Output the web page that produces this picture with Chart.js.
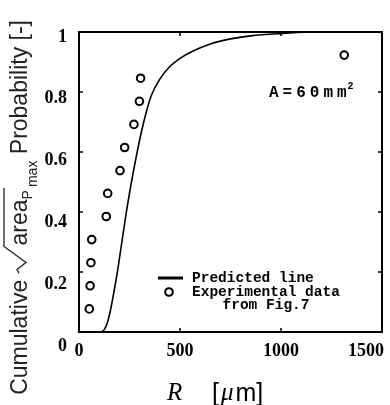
<!DOCTYPE html>
<html>
<head>
<meta charset="utf-8">
<script src="https://cdn.jsdelivr.net/npm/chart.js@4.4.1/dist/chart.umd.min.js"></script>
<style>
  body { margin: 0; background: #fff; }
  canvas { display: block; }
</style>
</head>
<body>
<canvas id="probChart" width="390" height="405"></canvas>
<script>
// experimental points: max defect size R [um] and cumulative probability
const expR = [51, 55, 59, 63, 135, 142, 203, 226, 272, 299, 305, 1313];
const expP = [0.077, 0.154, 0.231, 0.308, 0.385, 0.462, 0.538, 0.615, 0.692, 0.769, 0.846, 0.923];

// predicted distribution curve
const predR = [112, 125, 140, 155, 172, 190, 210, 230, 257, 285, 310, 330, 356, 400, 450, 500, 560, 650, 750, 850, 1010, 1160, 1500];
const predP = [0, 0.008, 0.03, 0.07, 0.13, 0.2, 0.29, 0.38, 0.49, 0.59, 0.67, 0.725, 0.785, 0.843, 0.885, 0.912, 0.935, 0.96, 0.977, 0.987, 0.995, 1.0, 1.0];

const xTicks = [0, 500, 1000, 1500];
const yTicks = [0, 0.2, 0.4, 0.6, 0.8, 1];

const SERIF = '"Liberation Serif", "Times New Roman", serif';
const SANS = '"Liberation Sans", Arial, sans-serif';
const MONO = '"Liberation Mono", "Courier New", monospace';

// frame, inward ticks, labels, titles and legend
const framePlugin = {
    id: 'frame',
    afterDraw(chart) {
        const ctx = chart.ctx;
        const a = chart.chartArea;
        const xs = chart.scales.x;
        const ys = chart.scales.y;
        ctx.save();

        ctx.strokeStyle = '#000';
        ctx.lineWidth = 2;
        ctx.strokeRect(a.left, a.top, a.right - a.left, a.bottom - a.top);

        // inward tick marks
        ctx.lineWidth = 1.5;
        ctx.beginPath();
        xTicks.slice(1, -1).forEach(v => {
            const px = xs.getPixelForValue(v);
            ctx.moveTo(px, a.bottom); ctx.lineTo(px, a.bottom - 4);
            ctx.moveTo(px, a.top); ctx.lineTo(px, a.top + 4);
        });
        yTicks.slice(1, -1).forEach(v => {
            const py = ys.getPixelForValue(v);
            ctx.moveTo(a.left, py); ctx.lineTo(a.left + 4, py);
            ctx.moveTo(a.right, py); ctx.lineTo(a.right - 4, py);
        });
        ctx.stroke();

        // tick labels
        ctx.fillStyle = '#000';
        ctx.font = 'bold 18px ' + SERIF;
        ctx.textAlign = 'right';
        ctx.textBaseline = 'middle';
        yTicks.forEach(v => {
            const txt = (v === 0 || v === 1) ? String(v) : v.toFixed(1);
            ctx.fillText(txt, 67, ys.getPixelForValue(v) + 5 + (1 - v) * 9);
        });
        ctx.textAlign = 'center';
        xTicks.forEach(v => {
            const txt = String(v);
            const w = ctx.measureText(txt).width;
            let cx = xs.getPixelForValue(v);
            if (cx + w / 2 > 384) cx = 384 - w / 2;
            ctx.fillText(txt, cx, 351);
        });

        // x axis title: R [um]
        ctx.textAlign = 'left';
        ctx.textBaseline = 'alphabetic';
        ctx.font = 'italic 25px ' + SERIF;
        ctx.fillText('R', 167, 400);
        let tx = 212;
        ctx.font = '25px ' + SANS;
        ctx.fillText('[', tx, 401);
        tx += ctx.measureText('[').width + 2;
        ctx.font = 'italic 25px ' + SERIF;
        ctx.fillText('\u03bc', tx, 400);
        tx += ctx.measureText('\u03bc').width + 2;
        ctx.font = '25px ' + SANS;
        ctx.fillText('m]', tx, 401);

        // y axis title, rotated
        ctx.save();
        ctx.translate(27, 405);
        ctx.rotate(-Math.PI / 2);
        ctx.fillStyle = '#222';
        ctx.strokeStyle = '#222';
        const main = '23px ' + SANS;
        const sub = '14px ' + SANS;
        ctx.font = main;
        const wCum = ctx.measureText('Cumulative ').width;
        const wArea = ctx.measureText('area').width;
        const wProb = ctx.measureText(' Probability [-]').width;
        ctx.font = sub;
        const wP = ctx.measureText('P').width;
        const wMax = ctx.measureText('max').width;
        const wRad = 28;
        const total = wCum + wRad + wArea + wP + 3 + wMax + wProb;
        let t = 385 - total;
        ctx.font = main;
        ctx.fillText('Cumulative ', t, 0);
        t += wCum;
        // radical sign with overline
        ctx.lineWidth = 1.3;
        ctx.beginPath();
        ctx.moveTo(t, -8);
        ctx.lineTo(t + 4, -10);
        ctx.lineTo(t + 11, -1);
        ctx.lineTo(t + wRad - 1, -23);
        ctx.lineTo(t + wRad + wArea + wP + 2, -23);
        ctx.stroke();
        t += wRad;
        ctx.fillText('area', t, 0);
        t += wArea;
        ctx.font = sub;
        ctx.fillText('P', t, 5);
        t += wP + 3;
        ctx.fillText('max', t, 10);
        t += wMax;
        ctx.font = main;
        ctx.fillText(' Probability [-]', t, 0);
        ctx.restore();

        // area annotation
        ctx.font = 'bold 16px ' + MONO;
        ctx.letterSpacing = '4px';
        ctx.fillText('A=60mm', 269, 97);
        const wA = ctx.measureText('A=60mm').width;
        ctx.font = 'bold 10px ' + MONO;
        ctx.letterSpacing = '0px';
        ctx.fillText('2', 269 + wA - 3, 89);

        // legend inside the plot
        const lineDs = chart.data.datasets[0];
        const ptDs = chart.data.datasets[1];
        ctx.font = 'bold 14.5px ' + MONO;
        ctx.textBaseline = 'middle';
        ctx.strokeStyle = lineDs.borderColor;
        ctx.lineWidth = 3;
        ctx.beginPath();
        ctx.moveTo(158, 278);
        ctx.lineTo(183, 278);
        ctx.stroke();
        ctx.fillText(lineDs.label, 192, 278);
        ctx.beginPath();
        ctx.arc(169, 292, ptDs.pointRadius, 0, Math.PI * 2);
        ctx.fillStyle = ptDs.backgroundColor;
        ctx.fill();
        ctx.lineWidth = ptDs.pointBorderWidth;
        ctx.strokeStyle = ptDs.borderColor;
        ctx.stroke();
        ctx.fillStyle = '#000';
        ctx.fillText(ptDs.label, 192, 292);
        ctx.textAlign = 'center';
        ctx.fillText('from Fig.7', 266, 305);

        ctx.restore();
    }
};

const ctx = document.getElementById('probChart').getContext('2d');
const chart = new Chart(ctx, {
    type: 'scatter',
    data: {
        datasets: [{
            label: 'Predicted line',
            data: predR.map((r, i) => ({ x: r, y: predP[i] })),
            showLine: true,
            borderColor: '#000',
            borderWidth: 1.6,
            pointRadius: 0,
            cubicInterpolationMode: 'monotone',
            fill: false
        }, {
            label: 'Experimental data',
            data: expR.map((r, i) => ({ x: r, y: expP[i] })),
            showLine: false,
            borderColor: '#000',
            backgroundColor: '#fff',
            pointRadius: 3.8,
            pointBorderWidth: 2
        }]
    },
    options: {
        responsive: false,
        animation: false,
        layout: { padding: { left: 79, right: 8, top: 32, bottom: 73 } },
        scales: {
            x: { type: 'linear', min: 0, max: 1500, display: false },
            y: { type: 'linear', min: 0, max: 1, display: false }
        },
        plugins: {
            legend: { display: false },
            tooltip: { enabled: false }
        }
    },
    plugins: [framePlugin]
});
</script>
</body>
</html>
